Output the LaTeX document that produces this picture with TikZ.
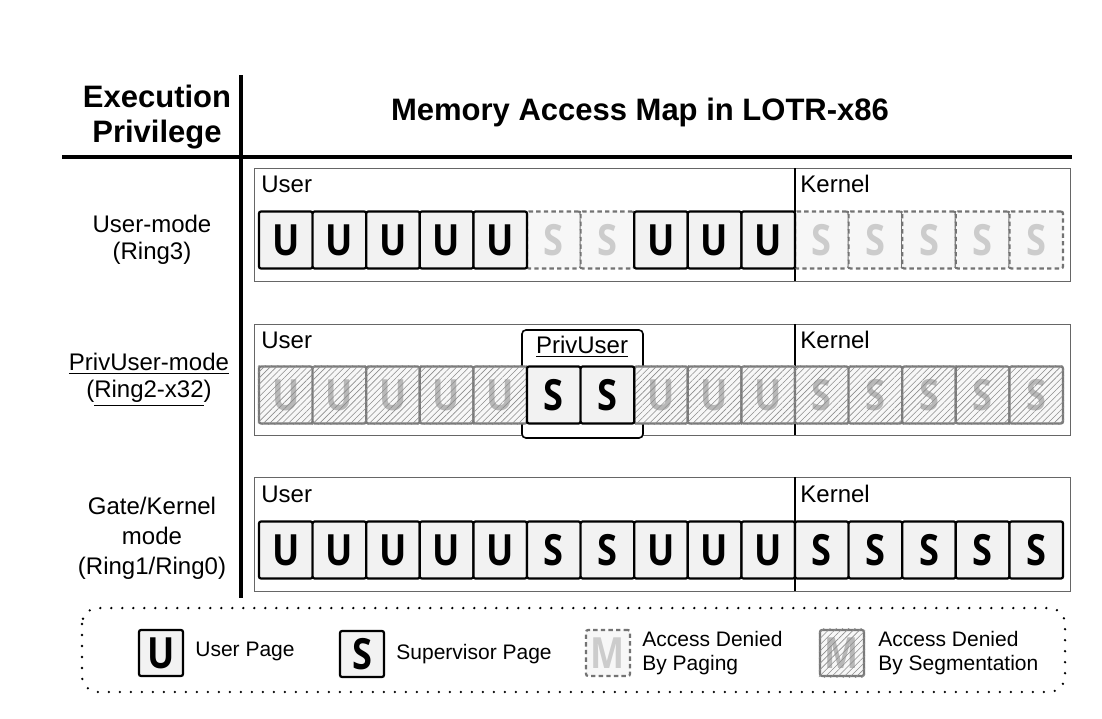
\documentclass[tikz,border=0pt]{standalone}
\usepackage{fontspec}
\setmainfont{Liberation Sans}
\newfontfamily\pagefont{Open Sans}[FakeStretch=0.84]
\usetikzlibrary{patterns.meta}

\tikzset{
  pagebox/.style={draw=black, line width=1.1pt, fill=black!5, rounded corners=1pt,
    minimum width=26.8pt, minimum height=28.5pt, inner sep=0pt,
    font=\pagefont\bfseries\fontsize{21.5}{21.5}\selectfont},
  pagepaging/.style={pagebox, draw=black!55, dash pattern=on 2.2pt off 1.6pt, fill=black!3, text=black!20},
  pageseg/.style={pagebox, draw=black!52, fill=black!3, text=black!28},
  hatch/.style={pattern={Lines[angle=45,distance=2.2pt,line width=0.3pt]}, pattern color=black!45},
  legendbox/.style={minimum width=22pt, minimum height=23pt},
  rowbox/.style={draw=black!60, line width=0.5pt},
  rowlabel/.style={align=center, font=\fontsize{12}{13.5}\selectfont},
  arealabel/.style={anchor=west, inner sep=0pt, font=\fontsize{12}{12}\selectfont},
  legendtext/.style={anchor=west, align=left, inner sep=0pt, font=\fontsize{10.5}{12}\selectfont},
  headtext/.style={align=center, font=\bfseries\fontsize{15.5}{17.5}\selectfont},
}

\begin{document}
\begin{tikzpicture}[x=0.5pt, y=-0.5pt]
	\useasboundingbox (0,0) rectangle (1102,718);
	% header
	\draw[line width=2pt] (62,157) -- (1072,157);
	\draw[line width=2pt] (241,75) -- (241,598);
	\node[headtext] (privhead) at (157,117) {Execution\\Privilege};
	\node[headtext] (maphead) at (640,112) {Memory Access Map in LOTR-x86};
	% row labels
	\node[rowlabel] (ring3) at (152,240) {User-mode\\(Ring3)};
	\node[rowlabel] (ring2) at (149,380) {\underline{PrivUser-mode}\\(\underline{Ring2-x32})};
	\node[rowlabel, font=\fontsize{12}{15}\selectfont] (ring0) at (152,538) {Gate/Kernel\\mode\\(Ring1/Ring0)};
	% address space frames
	\draw[rowbox] (254,168) rectangle (1070,281);
	\draw[rowbox] (254,324) rectangle (1070,435);
	\draw[rowbox] (254,477) rectangle (1070,591);
	\draw[line width=0.6pt] (795,168) -- (795,281);
	\draw[line width=0.6pt] (795,324) -- (795,435);
	\draw[line width=0.6pt] (795,477) -- (795,591);
	\foreach \y [count=\r] in {184,340,494} {
		\node[arealabel] (user\r) at (261,\y) {User};
		\node[arealabel] (kernel\r) at (800,\y) {Kernel};
	}
	\draw[line width=0.8pt, rounded corners=2pt, fill=white] (522,330) rectangle (643,438);
	\node[arealabel, anchor=center] (privuser) at (582,347) {\underline{PrivUser}};
	% user-mode row
	\foreach \i/\st/\l in {6/pagepaging/S,7/pagepaging/S,11/pagepaging/S,12/pagepaging/S,13/pagepaging/S,14/pagepaging/S,15/pagepaging/S,
		1/pagebox/U,2/pagebox/U,3/pagebox/U,4/pagebox/U,5/pagebox/U,8/pagebox/U,9/pagebox/U,10/pagebox/U}
		\node[\st] (ua\i) at ({259+53.6*(\i-0.5)},240) {\l};
	% privuser-mode row
	\foreach \i/\l in {1/U,2/U,3/U,4/U,5/U,8/U,9/U,10/U,11/S,12/S,13/S,14/S,15/S} {
		\node[pageseg] (pv\i) at ({259+53.6*(\i-0.5)},395) {\l};
		\fill[hatch] (pv\i.south west) rectangle (pv\i.north east);
	}
	\node[pagebox] (pv6) at ({259+53.6*5.5},395) {S};
	\node[pagebox] (pv7) at ({259+53.6*6.5},395) {S};
	% gate/kernel row
	\foreach \l [count=\i] in {U,U,U,U,U,S,S,U,U,U,S,S,S,S,S}
		\node[pagebox] (gk\i) at ({259+53.6*(\i-0.5)},550) {\l};
	% legend
	\draw[line width=1.3pt, line cap=round, dash pattern=on 0pt off 5.5pt, rounded corners=8pt] (82,608) rectangle (1065,692);
	\node[pagebox, legendbox] (lguser) at (161,653) {U};
	\node[legendtext] (lgusertxt) at (195,651) {User Page};
	\node[pagebox, legendbox] (lgsup) at (362,654) {S};
	\node[legendtext] (lgsuptxt) at (396,654) {Supervisor Page};
	\node[pagepaging, legendbox] (lgpag) at (608,653) {M};
	\node[legendtext] (lgpagtxt) at (642,653) {Access Denied\\By Paging};
	\node[pageseg, legendbox] (lgseg) at (842,653) {M};
	\fill[hatch] (lgseg.south west) rectangle (lgseg.north east);
	\node[legendtext] (lgsegtxt) at (878,653) {Access Denied\\By Segmentation};
\end{tikzpicture}
\end{document}
